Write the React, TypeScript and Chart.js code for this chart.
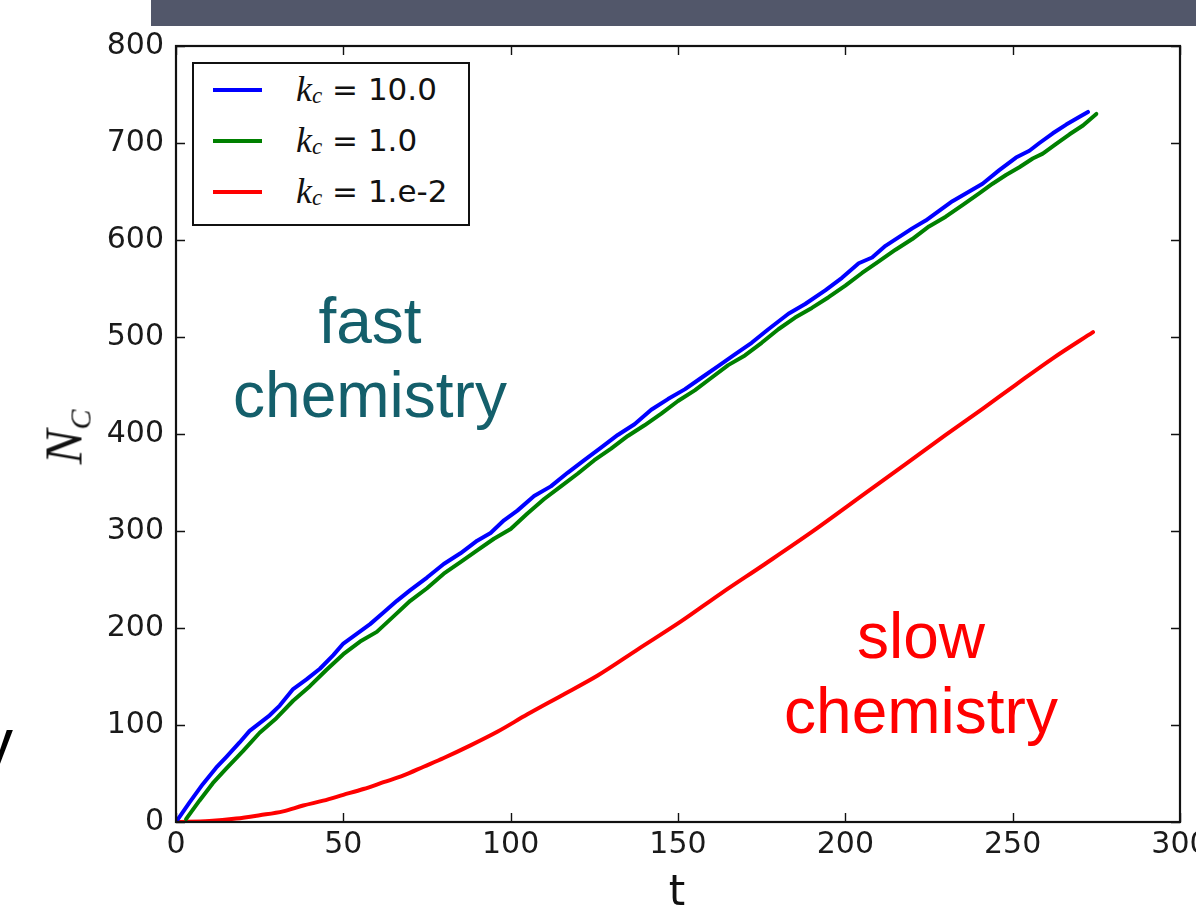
import React, { useEffect, useRef } from "react";
import { Chart, registerables } from "chart.js";

Chart.register(...registerables);

// ---- data ----
const xMin = 0;
const xMax = 300;
const xStep = 50;
const yMin = 0;
const yMax = 800;
const yStep = 100;

// k_c = 10.0 (blue)
const fastT = [0, 4, 8, 12, 15, 19, 22, 25, 28, 31, 35, 39, 43, 47, 50, 54, 58, 62, 66, 70, 75, 80, 85, 90, 94, 98, 102, 107, 112, 117, 122, 127, 132, 137, 142, 147, 152, 157, 162, 167, 172, 177, 183, 188, 194, 199, 204, 208, 212, 216, 220, 224, 228, 232, 236, 241, 246, 251, 255, 258, 262, 266, 270, 272.5];
const fastN = [0, 20, 39, 56, 67, 82, 94, 102, 110, 120, 137, 147, 158, 172, 184, 194, 204, 216, 228, 239, 252, 266, 277, 290, 298, 311, 321, 336, 346, 360, 373, 386, 399, 410, 425, 436, 446, 458, 470, 482, 494, 508, 524, 534, 548, 561, 576, 582, 594, 603, 612, 620, 630, 640, 648, 658, 672, 685, 692, 700, 710, 719, 727, 732];

// k_c = 1.0 (green)
const midT = [3, 7, 11, 15, 20, 25, 30, 35, 40, 45, 50, 55, 60, 65, 70, 75, 80, 85, 90, 95, 100, 105, 110, 115, 120, 125, 130, 135, 140, 145, 150, 155, 160, 165, 170, 175, 180, 185, 190, 195, 200, 205, 210, 215, 220, 225, 230, 235, 240, 244, 248, 252, 256, 259, 263, 267, 271, 275];
const midN = [3, 22, 40, 55, 73, 92, 107, 125, 140, 157, 173, 186, 196, 212, 228, 241, 256, 268, 280, 292, 302, 318, 333, 346, 359, 373, 385, 398, 409, 421, 434, 445, 458, 471, 481, 494, 508, 520, 530, 541, 553, 566, 578, 590, 601, 614, 624, 636, 648, 658, 667, 675, 684, 689, 699, 709, 718, 730];

// k_c = 1.e-2 (red)
const slowT = [0, 10, 18, 25, 32, 38, 44, 50, 56, 62, 68, 74, 80, 88, 96, 105, 115, 126, 138, 151, 163, 176, 190, 206, 218, 230, 241, 251, 262, 274];
const slowN = [0, 1, 3.5, 7, 11, 17, 22, 28, 34, 41, 48, 57, 66, 79, 93, 111, 130, 151, 178, 207, 236, 266, 299, 339, 369, 399, 426, 451, 478, 505];

const seriesLabels = ["10.0", "1.0", "1.e-2"];
const seriesColors = ["#0000ff", "#008000", "#ff0000"];
const seriesT = [fastT, midT, slowT];
const seriesN = [fastN, midN, slowN];
const seriesSmooth = [false, false, true];

const TICK_FONT = "'DejaVu Sans', sans-serif";
const SLIDE_FONT = "'Liberation Sans', Arial, sans-serif";
const MATH_FONT = "'Liberation Serif', 'DejaVu Serif', serif";

const framePlugin = {
  id: "mplFrame",
  afterDatasetsDraw(chart: any) {
    const { ctx, chartArea: a, scales } = chart;
    const L = 9;
    ctx.save();
    ctx.strokeStyle = "#111111";
    ctx.lineWidth = 1.4;
    scales.x.ticks.forEach((t: any) => {
      const px = Math.round(scales.x.getPixelForValue(t.value)) + 0.5;
      ctx.beginPath();
      ctx.moveTo(px, a.bottom);
      ctx.lineTo(px, a.bottom - L);
      ctx.moveTo(px, a.top);
      ctx.lineTo(px, a.top + L);
      ctx.stroke();
    });
    scales.y.ticks.forEach((t: any) => {
      const py = Math.round(scales.y.getPixelForValue(t.value)) + 0.5;
      ctx.beginPath();
      ctx.moveTo(a.left, py);
      ctx.lineTo(a.left + L, py);
      ctx.moveTo(a.right, py);
      ctx.lineTo(a.right - L, py);
      ctx.stroke();
    });
    ctx.lineWidth = 2.2;
    ctx.strokeStyle = "#111111";
    ctx.strokeRect(a.left, a.top, a.right - a.left, a.bottom - a.top);
    ctx.restore();
  },
};

export default function App() {
  const canvasRef = useRef<HTMLCanvasElement | null>(null);

  useEffect(() => {
    if (!canvasRef.current) return;
    const datasets = seriesLabels.map((lab, i) => ({
      label: "k_c = " + lab,
      data: seriesT[i].map((t, j) => ({ x: t, y: seriesN[i][j] })),
      borderColor: seriesColors[i],
      backgroundColor: seriesColors[i],
      borderWidth: 4,
      pointRadius: 0,
      tension: seriesSmooth[i] ? 0.4 : 0,
      cubicInterpolationMode: seriesSmooth[i] ? "monotone" : "default",
      borderJoinStyle: "round",
      borderCapStyle: "round",
      fill: false,
    }));
    const chart = new Chart(canvasRef.current, {
      type: "line",
      data: { datasets },
      plugins: [framePlugin],
      options: {
        responsive: false,
        animation: false,
        events: [],
        layout: { padding: { top: 46, right: 16, left: 0, bottom: 0 } },
        plugins: { legend: { display: false }, tooltip: { enabled: false } },
        scales: {
          x: {
            type: "linear",
            min: xMin,
            max: xMax,
            ticks: {
              stepSize: xStep,
              autoSkip: false,
              maxRotation: 0,
              padding: 5,
              color: "#1a1a1a",
              font: { family: TICK_FONT, size: 30 },
            },
            grid: { display: false, drawTicks: false },
            border: { display: false },
            afterFit: (s: any) => {
              s.height = 84;
              s.paddingLeft = 0;
              s.paddingRight = 0;
            },
          },
          y: {
            type: "linear",
            min: yMin,
            max: yMax,
            ticks: {
              stepSize: yStep,
              padding: 12,
              color: "#1a1a1a",
              font: { family: TICK_FONT, size: 30 },
            },
            grid: { display: false, drawTicks: false },
            border: { display: false },
            afterFit: (s: any) => {
              s.width = 176;
              s.paddingTop = 0;
              s.paddingBottom = 0;
            },
          },
        },
      } as any,
    });
    return () => chart.destroy();
  }, []);

  const legendRows = [90, 141, 192];

  return (
    <div
      style={{
        position: "absolute",
        left: 0,
        top: 0,
        width: 1196,
        height: 906,
        overflow: "hidden",
        background: "#ffffff",
      }}
    >
      <canvas
        ref={canvasRef}
        width={1196}
        height={906}
        style={{ position: "absolute", left: 0, top: 0, width: 1196, height: 906 }}
      />
      {/* slide header bar */}
      <div style={{ position: "absolute", left: 151, top: 0, width: 1045, height: 26, background: "#52576a" }} />
      {/* partial slide letter at left edge */}
      <div
        style={{
          position: "absolute",
          left: -20,
          top: 709,
          fontFamily: SLIDE_FONT,
          fontSize: 66,
          lineHeight: "66px",
          color: "#000",
        }}
      >
        y
      </div>
      {/* y axis title */}
      <div
        style={{
          position: "absolute",
          left: 68,
          top: 437,
          transform: "translate(-50%, -50%) rotate(-90deg)",
          fontFamily: MATH_FONT,
          fontStyle: "italic",
          fontSize: 52,
          lineHeight: "52px",
          color: "#111",
          whiteSpace: "nowrap",
        }}
      >
        N<span style={{ fontSize: 30, position: "relative", top: 9 }}>C</span>
      </div>
      {/* x axis title */}
      <div
        style={{
          position: "absolute",
          left: 677,
          top: 870,
          transform: "translateX(-50%)",
          fontFamily: TICK_FONT,
          fontSize: 42,
          lineHeight: "42px",
          color: "#111",
        }}
      >
        t
      </div>
      {/* annotations */}
      <div
        style={{
          position: "absolute",
          left: 370,
          top: 284,
          transform: "translateX(-50%)",
          fontFamily: SLIDE_FONT,
          fontSize: 64,
          lineHeight: "74px",
          color: "#145f6b",
          textAlign: "center",
          whiteSpace: "nowrap",
        }}
      >
        fast
        <br />
        chemistry
      </div>
      <div
        style={{
          position: "absolute",
          left: 921,
          top: 599,
          transform: "translateX(-50%)",
          fontFamily: SLIDE_FONT,
          fontSize: 64,
          lineHeight: "75px",
          color: "#ff0000",
          textAlign: "center",
          whiteSpace: "nowrap",
        }}
      >
        slow
        <br />
        chemistry
      </div>
      {/* legend */}
      <div
        style={{
          position: "absolute",
          left: 192,
          top: 62,
          width: 278,
          height: 164,
          boxSizing: "border-box",
          border: "2px solid #111",
          background: "#ffffff",
        }}
      />
      {seriesLabels.map((lab, i) => (
        <React.Fragment key={lab}>
          <div
            style={{
              position: "absolute",
              left: 213,
              top: legendRows[i] - 2,
              width: 49,
              height: 4,
              background: seriesColors[i],
            }}
          />
          <div
            style={{
              position: "absolute",
              left: 296,
              top: legendRows[i] - 21,
              height: 40,
              display: "flex",
              alignItems: "center",
              whiteSpace: "nowrap",
              color: "#111",
            }}
          >
            <span style={{ fontFamily: MATH_FONT, fontStyle: "italic", fontSize: 36, lineHeight: "40px" }}>k</span>
            <span
              style={{
                fontFamily: MATH_FONT,
                fontStyle: "italic",
                fontSize: 23,
                lineHeight: "40px",
                position: "relative",
                top: 7,
              }}
            >
              c
            </span>
            <span style={{ fontFamily: TICK_FONT, fontSize: 31, lineHeight: "40px", whiteSpace: "pre" }}>
              {" = " + lab}
            </span>
          </div>
        </React.Fragment>
      ))}
    </div>
  );
}
